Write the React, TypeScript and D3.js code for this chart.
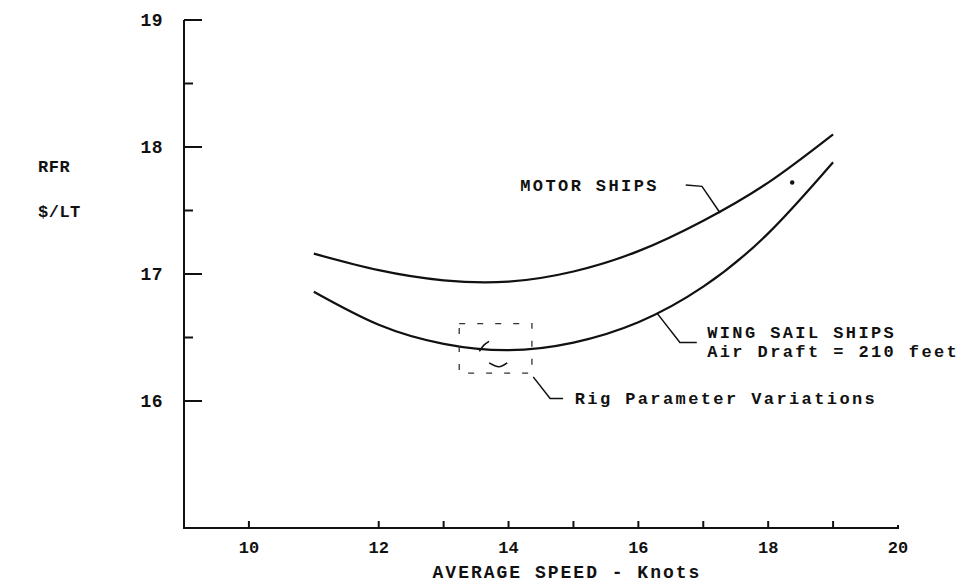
import React from "react";
import * as d3 from "d3";

// speeds in knots, RFR in $/LT
const speeds = [11, 12, 13, 14, 15, 16, 17, 18, 19];
const motorRFR = [17.16, 17.03, 16.95, 16.94, 17.02, 17.18, 17.42, 17.72, 18.1];
const wingRFR = [16.86, 16.6, 16.45, 16.4, 16.46, 16.62, 16.9, 17.32, 17.88];

const xTickLabels = [10, 12, 14, 16, 18, 20];
const xTickMarks = [10, 12, 13, 14, 15, 16, 17, 18, 19];
const yTickLabels = [16, 17, 18, 19];
const yMinorTicks = [16.5, 17.5, 18.5];

const W = 963;
const H = 582;
const margin = { top: 20, right: 65, bottom: 54, left: 184 };
const font = "'Liberation Mono', 'DejaVu Sans Mono', monospace";

const App = () => {
  const x = d3.scaleLinear().domain([9, 20]).range([margin.left, W - margin.right]);
  const y = d3.scaleLinear().domain([15, 19]).range([H - margin.bottom, margin.top]);

  const line = d3
    .line<number>()
    .x((_, i) => x(speeds[i]))
    .y((d) => y(d))
    .curve(d3.curveNatural);

  const pts = (arr: number[][]) => arr.map(([a, b]) => `${x(a)},${y(b)}`).join(" ");
  const smooth = d3
    .line<number[]>()
    .x((d) => x(d[0]))
    .y((d) => y(d[1]))
    .curve(d3.curveNatural);

  const txt = {
    fontFamily: font,
    fontWeight: 700,
    fontSize: 17,
    letterSpacing: 2.4,
    fill: "#111",
  } as React.CSSProperties;

  const x0 = x(9);
  const y0 = y(15);

  return (
    <svg
      width={W}
      height={H}
      style={{ position: "absolute", left: 0, top: 0, background: "#fff" }}
    >
      {/* axes */}
      <path
        d={`M${x0},${y(19)}V${y0}H${x(20)}V${y0 - 3}`}
        fill="none"
        stroke="#111"
        strokeWidth={2}
      />
      <line x1={x0} x2={x0 + 18} y1={y(19)} y2={y(19)} stroke="#111" strokeWidth={2} />
      {yTickLabels.slice(0, 3).map((v) => (
        <line key={v} x1={x0} x2={x0 + 18} y1={y(v)} y2={y(v)} stroke="#111" strokeWidth={2} />
      ))}
      {yMinorTicks.map((v) => (
        <line key={v} x1={x0} x2={x0 + 9} y1={y(v)} y2={y(v)} stroke="#111" strokeWidth={2} />
      ))}
      {xTickMarks.map((v) => (
        <line key={v} x1={x(v)} x2={x(v)} y1={y0} y2={y0 - 7} stroke="#111" strokeWidth={2} />
      ))}
      {yTickLabels.map((v) => (
        <text key={v} x={x0 - 21} y={y(v)} dy="0.35em" textAnchor="end" style={{ ...txt, fontSize: 18, letterSpacing: 0.5 }}>
          {v}
        </text>
      ))}
      {xTickLabels.map((v) => (
        <text key={v} x={x(v)} y={y0 + 25} textAnchor="middle" style={{ ...txt, fontSize: 17, letterSpacing: 0 }}>
          {v}
        </text>
      ))}
      <text x={x(14.9)} y={H - 4} textAnchor="middle" style={{ ...txt, fontSize: 18, letterSpacing: 2 }}>
        AVERAGE SPEED - Knots
      </text>
      <text x={38} y={172} style={{ ...txt, letterSpacing: 0.5 }}>RFR</text>
      <text x={38} y={217} style={{ ...txt, letterSpacing: 0.5 }}>$/LT</text>

      {/* curves */}
      <path d={line(motorRFR) || ""} fill="none" stroke="#111" strokeWidth={2.2} />
      <path d={line(wingRFR) || ""} fill="none" stroke="#111" strokeWidth={2.2} />

      {/* motor ships annotation */}
      <text x={x(14.18)} y={y(17.65)} style={txt}>MOTOR SHIPS</text>
      <polyline
        points={pts([[16.73, 17.7], [16.98, 17.69], [17.26, 17.48]])}
        fill="none"
        stroke="#111"
        strokeWidth={1.5}
      />
      <circle cx={x(18.37)} cy={y(17.72)} r={2.2} fill="#111" />

      {/* wing sail annotation */}
      <polyline
        points={pts([[16.29, 16.69], [16.64, 16.46], [16.9, 16.46]])}
        fill="none"
        stroke="#111"
        strokeWidth={1.5}
      />
      <text x={x(17.06)} y={y(16.5)} style={txt}>WING SAIL SHIPS</text>
      <text x={x(17.06)} y={y(16.35)} style={txt}>Air Draft = 210 feet</text>

      {/* rig parameter box */}
      <rect
        x={x(13.24)}
        y={y(16.61)}
        width={x(14.36) - x(13.24)}
        height={y(16.22) - y(16.61)}
        fill="none"
        stroke="#333"
        strokeWidth={1.3}
        strokeDasharray="6,12"
      />
      <path
        d={smooth([[13.55, 16.39], [13.62, 16.44], [13.7, 16.47]]) || ""}
        fill="none"
        stroke="#111"
        strokeWidth={1.5}
      />
      <path
        d={smooth([[13.7, 16.3], [13.85, 16.27], [13.98, 16.3]]) || ""}
        fill="none"
        stroke="#111"
        strokeWidth={1.5}
      />
      <polyline
        points={pts([[14.38, 16.19], [14.64, 16.02], [14.84, 16.02]])}
        fill="none"
        stroke="#111"
        strokeWidth={1.5}
      />
      <text x={x(15.02)} y={y(15.98)} style={txt}>Rig Parameter Variations</text>
    </svg>
  );
};

export default App;
